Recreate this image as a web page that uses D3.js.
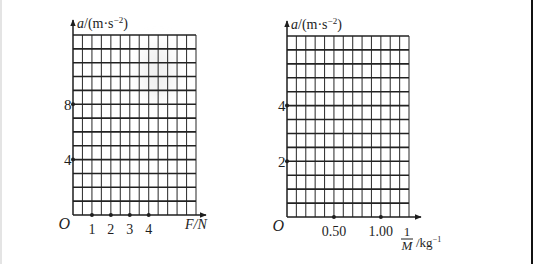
<!DOCTYPE html>
<html>
<head>
<meta charset="utf-8">
<script src="https://cdn.jsdelivr.net/npm/d3@7"></script>
<style>
  html, body { margin: 0; padding: 0; background: #fff; }
  svg { display: block; }
</style>
</head>
<body>
<div id="chart"></div>
<script>
// left panel: a vs F
const leftXMax = 6.5, leftXStep = 0.5;
const leftYMax = 13, leftYStep = 1;
const leftXTicks = [1, 2, 3, 4];
const leftXTickLabels = ['1', '2', '3', '4'];
const leftYTicks = [4, 8];
const leftYTickLabels = ['4', '8'];

// right panel: a vs 1/M
const rightXMax = 1.3, rightXStep = 0.1;
const rightYMax = 6.5, rightYStep = 0.5;
const rightXTicks = [0.5, 1.0];
const rightXTickLabels = ['0.50', '1.00'];
const rightYTicks = [2, 4];
const rightYTickLabels = ['2', '4'];

const W = 533, H = 264;
const FONT = '"Liberation Serif", "Times New Roman", serif';
const INK = '#1e1e1e';

const svg = d3.select('#chart').append('svg')
  .attr('width', W).attr('height', H)
  .attr('viewBox', `0 0 ${W} ${H}`);

svg.append('rect').attr('width', W).attr('height', H).attr('fill', '#fff');
// scan edges
svg.append('rect').attr('x', 0).attr('y', 0).attr('width', 2).attr('height', H).attr('fill', '#e4e4e4');
svg.append('rect').attr('x', 531).attr('y', 0).attr('width', 2).attr('height', H).attr('fill', '#111');

const defs = svg.append('defs');
defs.append('marker')
  .attr('id', 'arrow')
  .attr('viewBox', '0 0 10 10')
  .attr('refX', 9).attr('refY', 5)
  .attr('markerWidth', 7).attr('markerHeight', 7)
  .attr('markerUnits', 'userSpaceOnUse')
  .attr('orient', 'auto')
  .append('path').attr('d', 'M0,1 L10,5 L0,9 Z').attr('fill', INK);

// faint scan smudge on left grid
const blur = defs.append('filter').attr('id', 'smudge').attr('x', '-50%').attr('y', '-50%').attr('width', '200%').attr('height', '200%');
blur.append('feGaussianBlur').attr('stdDeviation', 8);
svg.append('ellipse').attr('cx', 158).attr('cy', 72).attr('rx', 16).attr('ry', 28)
  .attr('fill', '#f0f0f0').attr('filter', 'url(#smudge)');

function yLabel(g, x, y) {
  const t = g.append('text').attr('x', x).attr('y', y)
    .attr('font-family', FONT).attr('font-size', 14).attr('fill', INK);
  t.append('tspan').attr('font-style', 'italic').text('a');
  t.append('tspan').text('/(m·s');
  t.append('tspan').attr('font-size', 9).attr('dy', -5).text('−2');
  t.append('tspan').attr('dy', 5).text(')');
}

function panel(cfg) {
  const x = d3.scaleLinear().domain([0, cfg.xMax]).range([cfg.x0, cfg.x1]);
  const y = d3.scaleLinear().domain([0, cfg.yMax]).range([cfg.y0, cfg.y1]);
  const g = svg.append('g');

  const xs = d3.range(0, cfg.xMax + cfg.xStep / 2, cfg.xStep);
  const ys = d3.range(0, cfg.yMax + cfg.yStep / 2, cfg.yStep);

  g.selectAll('line.v').data(xs.slice(1)).enter().append('line')
    .attr('x1', d => x(d)).attr('x2', d => x(d))
    .attr('y1', y(0)).attr('y2', y(cfg.yMax))
    .attr('stroke', '#3a3a3a').attr('stroke-width', 1.1);

  g.selectAll('line.h').data(ys.slice(1)).enter().append('line')
    .attr('x1', x(0)).attr('x2', x(cfg.xMax))
    .attr('y1', d => y(d)).attr('y2', d => y(d))
    .attr('stroke', '#222').attr('stroke-width', 1.6);

  // axes with arrows
  g.append('line')
    .attr('x1', x(0)).attr('x2', cfg.xArrow)
    .attr('y1', y(0)).attr('y2', y(0))
    .attr('stroke', INK).attr('stroke-width', 1.5)
    .attr('marker-end', 'url(#arrow)');
  g.append('line')
    .attr('x1', x(0)).attr('x2', x(0))
    .attr('y1', y(0)).attr('y2', cfg.yArrow)
    .attr('stroke', INK).attr('stroke-width', 1.5)
    .attr('marker-end', 'url(#arrow)');

  // tick dots
  g.selectAll('circle.xt').data(cfg.xTicks).enter().append('circle')
    .attr('cx', d => x(d)).attr('cy', y(0)).attr('r', 2).attr('fill', INK);
  g.selectAll('circle.yt').data(cfg.yTicks).enter().append('circle')
    .attr('cx', x(0)).attr('cy', d => y(d)).attr('r', 2).attr('fill', INK);

  g.selectAll('text.xt').data(cfg.xTicks).enter().append('text')
    .attr('x', d => x(d)).attr('y', y(0) + 19)
    .attr('text-anchor', 'middle')
    .attr('font-family', FONT).attr('font-size', 14).attr('fill', INK)
    .text((d, i) => cfg.xTickLabels[i]);
  g.selectAll('text.yt').data(cfg.yTicks).enter().append('text')
    .attr('x', x(0) - 1.5).attr('y', d => y(d) + 5.5)
    .attr('text-anchor', 'end')
    .attr('font-family', FONT).attr('font-size', 15).attr('fill', INK)
    .text((d, i) => cfg.yTickLabels[i]);

  // origin
  g.append('text').attr('x', x(0) - 3).attr('y', y(0) + 14)
    .attr('text-anchor', 'end')
    .attr('font-family', FONT).attr('font-size', 16).attr('font-style', 'italic')
    .attr('fill', INK).text('O');

  yLabel(g, x(0) + 4, cfg.yArrow + 8);
  return { g, x, y };
}

const L = panel({
  x0: 73, x1: 196, y0: 215, y1: 35,
  xMax: leftXMax, xStep: leftXStep, yMax: leftYMax, yStep: leftYStep,
  xTicks: leftXTicks, xTickLabels: leftXTickLabels,
  yTicks: leftYTicks, yTickLabels: leftYTickLabels,
  xArrow: 206, yArrow: 20
});

const lt = L.g.append('text').attr('x', 185).attr('y', 229)
  .attr('font-family', FONT).attr('font-size', 14).attr('fill', INK);
lt.append('tspan').attr('font-style', 'italic').text('F');
lt.append('tspan').attr('font-style', 'italic').text('/N');

const R = panel({
  x0: 287, x1: 409, y0: 217, y1: 36,
  xMax: rightXMax, xStep: rightXStep, yMax: rightYMax, yStep: rightYStep,
  xTicks: rightXTicks, xTickLabels: rightXTickLabels,
  yTicks: rightYTicks, yTickLabels: rightYTickLabels,
  xArrow: 421, yArrow: 21
});

// 1/M fraction label
const fx = 407;
R.g.append('text').attr('x', fx).attr('y', 236).attr('text-anchor', 'middle')
  .attr('font-family', FONT).attr('font-size', 13).attr('fill', INK).text('1');
R.g.append('line').attr('x1', fx - 6).attr('x2', fx + 6).attr('y1', 239).attr('y2', 239)
  .attr('stroke', INK).attr('stroke-width', 1);
R.g.append('text').attr('x', fx).attr('y', 250).attr('text-anchor', 'middle')
  .attr('font-family', FONT).attr('font-size', 13).attr('font-style', 'italic')
  .attr('fill', INK).text('M');
const kg = R.g.append('text').attr('x', 416).attr('y', 247)
  .attr('font-family', FONT).attr('font-size', 13).attr('fill', INK);
kg.append('tspan').text('/kg');
kg.append('tspan').attr('font-size', 8).attr('dy', -5).text('−1');
</script>
</body>
</html>
